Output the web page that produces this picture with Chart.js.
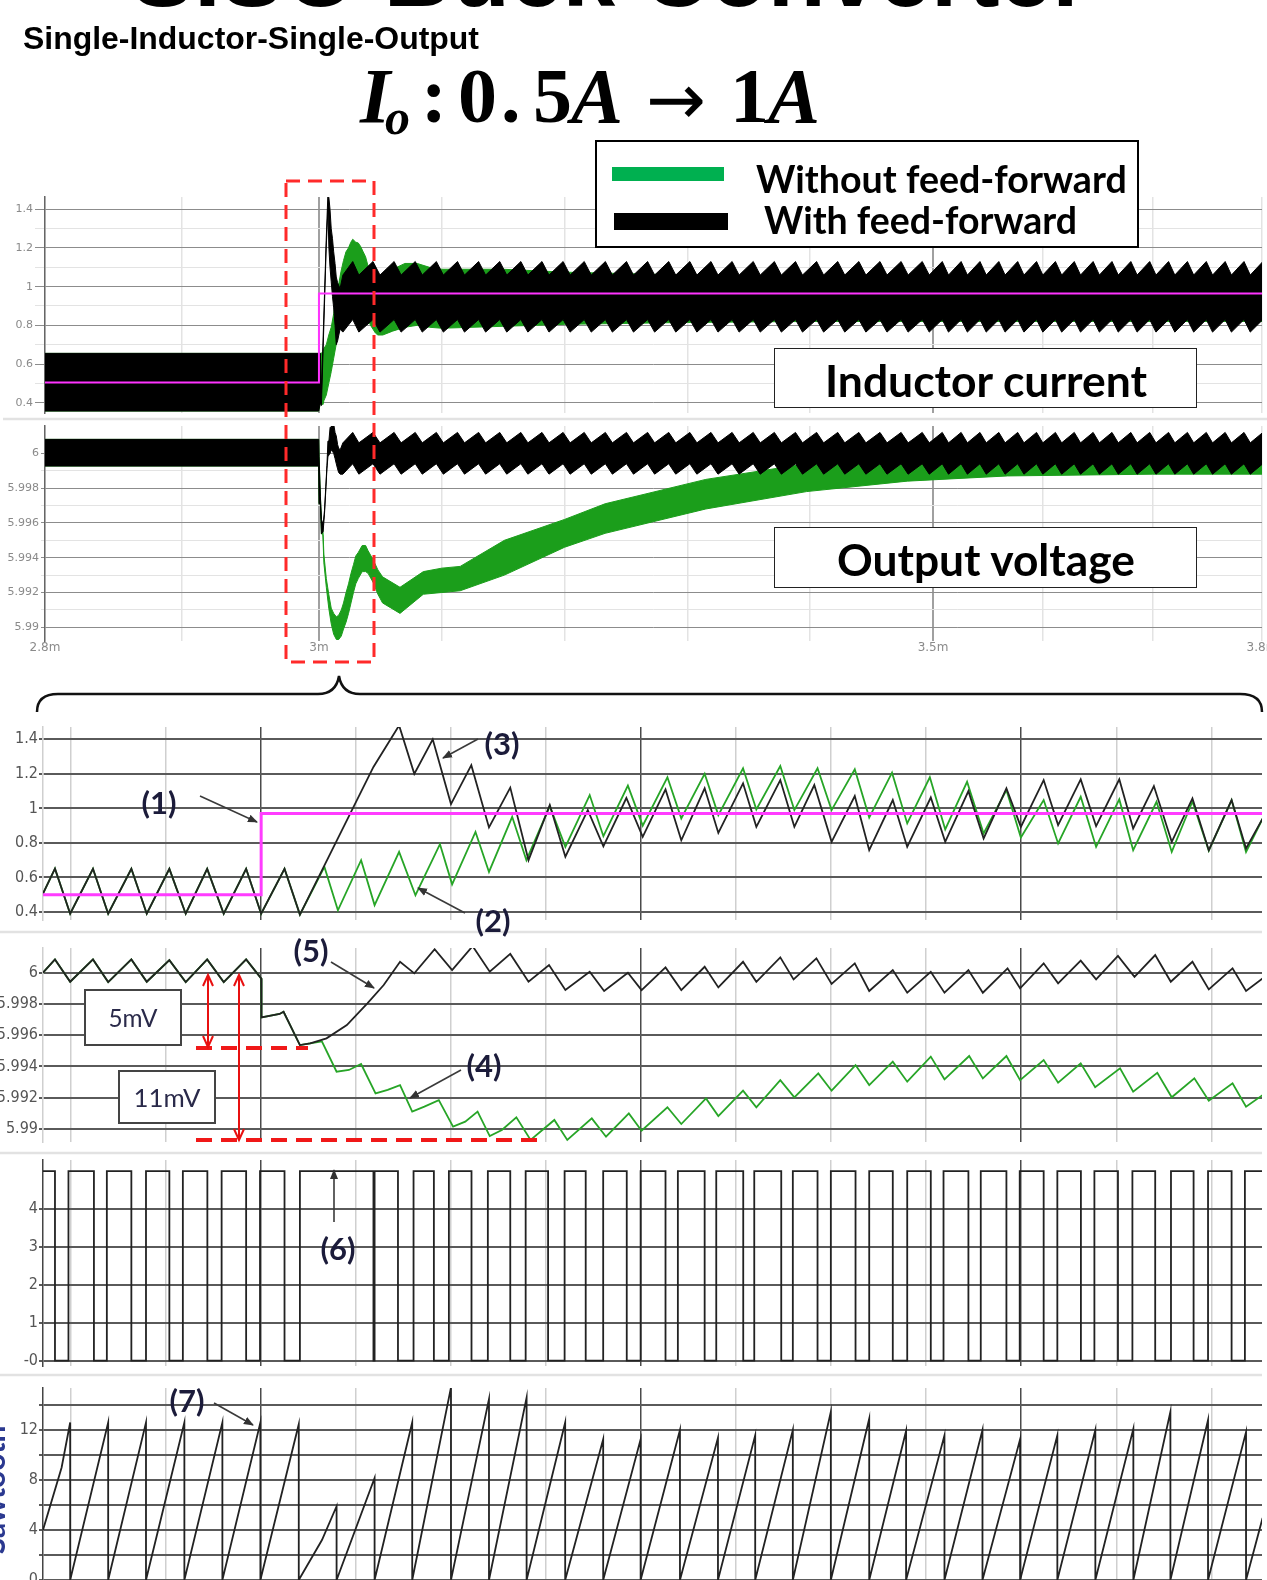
<!DOCTYPE html>
<html>
<head>
<meta charset="utf-8">
<title>SISO Buck Converter</title>
<script src="https://cdn.jsdelivr.net/npm/chart.js@4.4.1/dist/chart.umd.min.js"></script>
<style>
html, body { margin: 0; padding: 0; background: #fff; overflow: hidden; }
#page { position: relative; width: 1267px; height: 1580px; overflow: hidden; background: #fff; }
canvas { position: absolute; left: 0; }
.t { position: absolute; white-space: nowrap; line-height: 1; }
.box { position: absolute; box-sizing: border-box; background: #fff; }
.num { position: absolute; white-space: nowrap; line-height: 1; font: 700 31px Lato, 'Open Sans', sans-serif; color: #1b1b3a; transform: translate(-50%, -50%); }
.fx { position: absolute; white-space: nowrap; line-height: 1; font-family: 'Liberation Serif', 'Times New Roman', serif; font-weight: 700; transform: translateY(-83.75%); }
</style>
</head>
<body>
<div id="page">
  <canvas id="topI" width="1300" height="240" style="top:185px"></canvas>
  <canvas id="topV" width="1300" height="245" style="top:414px"></canvas>
  <canvas id="zI" width="1300" height="217" style="top:715px"></canvas>
  <canvas id="zV" width="1300" height="218" style="top:936px"></canvas>
  <canvas id="zP" width="1300" height="230" style="top:1148px"></canvas>
  <canvas id="zS" width="1300" height="219" style="top:1376px"></canvas>

  <svg width="1267" height="1580" style="position:absolute;left:0;top:0">
    <defs>
      <marker id="ah" viewBox="0 0 10 10" refX="9" refY="5" markerWidth="10" markerHeight="10" orient="auto" markerUnits="userSpaceOnUse">
        <path d="M0,1 L10,5 L0,9 z" fill="#333"/>
      </marker>
    </defs>
    <g stroke="#e2e2e2" stroke-width="2.5">
      <line x1="3" y1="419" x2="1267" y2="419"/>
      <line x1="0" y1="932" x2="1262" y2="932"/>
      <line x1="0" y1="1153" x2="1262" y2="1153"/>
      <line x1="0" y1="1375" x2="1262" y2="1375"/>
    </g>
    <rect x="286" y="181" width="88" height="481" fill="none" stroke="#ff2a2a" stroke-width="3" stroke-dasharray="14 8"/>
    <path d="M37 712 Q37 694 58 694 L318 694 Q336 694 339 676 Q342 694 360 694 L1240 694 Q1262 694 1262 712" fill="none" stroke="#111" stroke-width="2.5"/>
    <g stroke="#3a3a3a" stroke-width="1.6" marker-end="url(#ah)">
      <line x1="200" y1="796" x2="257" y2="822"/>
      <line x1="465" y1="913" x2="418" y2="888"/>
      <line x1="478" y1="739" x2="443" y2="758"/>
      <line x1="461" y1="1070" x2="410" y2="1098"/>
      <line x1="331" y1="962" x2="374" y2="988"/>
      <line x1="334" y1="1222" x2="334" y2="1170"/>
      <line x1="214" y1="1403" x2="253" y2="1425"/>
    </g>
    <g stroke="#f01818" stroke-width="4" stroke-dasharray="16 9">
      <line x1="196" y1="1048" x2="308" y2="1048"/>
      <line x1="196" y1="1140" x2="545" y2="1140"/>
    </g>
    <g stroke="#e81010" stroke-width="2" fill="none">
      <line x1="208" y1="975" x2="208" y2="1047"/>
      <polyline points="203,986 208,975 213,986"/>
      <polyline points="203,1036 208,1047 213,1036"/>
      <line x1="239" y1="975" x2="239" y2="1140"/>
      <polyline points="234,986 239,975 244,986"/>
      <polyline points="234,1129 239,1140 244,1129"/>
    </g>
  </svg>

  <div class="t" data-fw="958" style="left:610px;top:11px;font:700 94px 'Liberation Sans',Arial,sans-serif;color:#000;transform:translate(-50%,-84.65%)">SISO Buck Converter</div>
  <div class="t" data-fw="456" style="left:23px;top:38px;font:700 26px 'Liberation Sans',Arial,sans-serif;color:#000;transform:translateY(-50%)">Single-Inductor-Single-Output</div>

  <div id="formula">
    <span class="fx" style="left:360px;top:122px;font-size:78px;font-style:italic">I</span><span class="fx" style="left:385px;top:134px;font-size:50px;font-style:italic">o</span><span class="fx" style="left:421px;top:122px;font-size:78px">:</span><span class="fx" style="left:458px;top:122px;font-size:78px">0</span><span class="fx" style="left:501px;top:122px;font-size:78px">.</span><span class="fx" style="left:533px;top:122px;font-size:78px">5</span><span class="fx" style="left:571px;top:122px;font-size:78px;font-style:italic">A</span><span class="fx" data-fw="60" style="left:646px;top:124px;font-size:70px;font-weight:400;font-family:'DejaVu Sans',sans-serif">→</span><span class="fx" style="left:730px;top:122px;font-size:78px">1</span><span class="fx" style="left:768px;top:122px;font-size:78px;font-style:italic">A</span>
  </div>

  <div class="box" style="left:595px;top:140px;width:544px;height:108px;border:2px solid #000"></div>
  <div class="box" style="left:612px;top:167px;width:112px;height:14px;background:#00b050"></div>
  <div class="box" style="left:614px;top:213px;width:114px;height:17px;background:#000"></div>
  <div class="t" data-fw="371" style="left:756px;top:178px;font:700 35px Lato,sans-serif;color:#000;transform:translateY(-50%)">Without feed-forward</div>
  <div class="t" data-fw="313" style="left:764px;top:219px;font:700 35px Lato,sans-serif;color:#000;transform:translateY(-50%)">With feed-forward</div>

  <div class="box" style="left:774px;top:348px;width:423px;height:60px;border:1.5px solid #222"></div>
  <div class="t" data-fw="322" style="left:825px;top:379px;font:700 37px Lato,sans-serif;color:#000;transform:translateY(-50%)">Inductor current</div>
  <div class="box" style="left:774px;top:527px;width:423px;height:61px;border:1.5px solid #222"></div>
  <div class="t" data-fw="298" style="left:837px;top:558px;font:700 37px Lato,sans-serif;color:#000;transform:translateY(-50%)">Output voltage</div>

  <div class="box" style="left:84px;top:989px;width:98px;height:57px;border:2px solid #444"></div>
  <div class="t" data-fw="49" style="left:133px;top:1017px;font:400 26px Lato,sans-serif;color:#2a2a4a;transform:translate(-50%,-50%)">5mV</div>
  <div class="box" style="left:118px;top:1070px;width:98px;height:54px;border:2px solid #444"></div>
  <div class="t" data-fw="67" style="left:167px;top:1097px;font:400 26px Lato,sans-serif;color:#2a2a4a;transform:translate(-50%,-50%)">11mV</div>

  <div class="num" style="left:159px;top:802px">(1)</div>
  <div class="num" style="left:493px;top:920px">(2)</div>
  <div class="num" style="left:502px;top:743px">(3)</div>
  <div class="num" style="left:484px;top:1065px">(4)</div>
  <div class="num" style="left:311px;top:950px">(5)</div>
  <div class="num" style="left:338px;top:1248px">(6)</div>
  <div class="num" style="left:187px;top:1400px">(7)</div>

  <div class="t" style="left:-7px;top:1490px;font:700 30px Lato,sans-serif;color:#2b3990;transform:translate(-50%,-50%) rotate(-90deg)">Sawtooth</div>
</div>

<script>
// ---------- top panels (time in ms) ----------
const topGridX = [2.8, 2.9, 3.0, 3.1, 3.2, 3.3, 3.4, 3.5, 3.6, 3.7, 3.8];
const topMajorX = [3.0, 3.5];
const topXLabelAt = [2.8, 3.0, 3.5, 3.8];
const topXLabels = ['2.8m', '3m', '3.5m', '3.8m'];
// the source plot's time axis is not evenly spaced: where each labelled time sits along it (0..1)
const timeAxisAt = [2.8, 3.0, 3.5, 3.8];
const timeAxisFrac = [0, 0.2251, 0.7297, 1];

const topIGrid = [0.4, 0.5, 0.6, 0.7, 0.8, 0.9, 1.0, 1.1, 1.2, 1.3, 1.4];
const topILabelAt = [0.4, 0.6, 0.8, 1.0, 1.2, 1.4];
const topILabels = ['0.4', '0.6', '0.8', '1', '1.2', '1.4'];
const topVGrid = [5.99, 5.991, 5.992, 5.993, 5.994, 5.995, 5.996, 5.997, 5.998, 5.999, 6.0];
const topVLabelAt = [5.99, 5.992, 5.994, 5.996, 5.998, 6.0];
const topVLabels = ['5.99', '5.992', '5.994', '5.996', '5.998', '6'];

// reference current [t, A]
const topRef = [[2.8, 0.505], [3.0, 0.505], [3.0, 0.965], [3.8, 0.965]];
// ripple bands: [t, upper edge, lower edge]
const tiBlack = [[2.8, 0.655, 0.357], [2.9998, 0.655, 0.357], [3.0012, 0.655, 0.40], [3.0020, 0.45, 0.385],
  [3.0059, 1.24, 1.20], [3.0073, 1.48, 1.40], [3.0081, 1.46, 1.20], [3.0090, 1.40, 1.10], [3.0100, 1.30, 1.025],
  [3.0110, 1.25, 0.95], [3.0120, 1.18, 0.89], [3.0131, 1.12, 0.80], [3.0141, 1.05, 0.70], [3.0152, 1.02, 0.72],
  [3.0172, 0.99, 0.78]];
const tiGreen = [[2.8, 0.655, 0.357], [2.9998, 0.655, 0.357], [3.0012, 0.655, 0.40], [3.0033, 0.66, 0.39],
  [3.0040, 0.68, 0.41], [3.0060, 0.70, 0.44], [3.0080, 0.75, 0.50], [3.0100, 0.79, 0.56], [3.0120, 0.86, 0.63],
  [3.0140, 0.95, 0.70], [3.0160, 1.01, 0.78], [3.0180, 1.08, 0.84], [3.0200, 1.135, 0.90], [3.0220, 1.18, 0.94],
  [3.0240, 1.20, 0.96], [3.0260, 1.23, 0.99], [3.0275, 1.245, 0.99], [3.0300, 1.23, 0.99], [3.0320, 1.226, 0.95],
  [3.0340, 1.207, 0.91], [3.0360, 1.18, 0.88], [3.0380, 1.154, 0.855], [3.0400, 1.106, 0.83], [3.0420, 1.07, 0.80],
  [3.0440, 1.067, 0.78], [3.0460, 1.052, 0.76], [3.0480, 1.04, 0.75], [3.0520, 1.05, 0.75], [3.0600, 1.09, 0.77],
  [3.0700, 1.12, 0.79], [3.0800, 1.12, 0.80], [3.0900, 1.10, 0.79], [3.1000, 1.09, 0.785], [3.1500, 1.09, 0.795],
  [3.2000, 1.075, 0.805], [3.3000, 1.06, 0.815], [3.4000, 1.055, 0.82], [3.8000, 1.055, 0.82]];
const tvBlack = [[2.8, 6.0008, 5.99927], [2.9998, 6.0008, 5.99927], [3.0001, 5.9998, 5.9971], [3.0012, 5.9975, 5.9971],
  [3.0020, 5.9962, 5.99537], [3.0034, 5.9959, 5.9955], [3.0045, 5.9967, 5.9965], [3.0056, 5.9981, 5.9979],
  [3.0065, 5.9993, 5.9991], [3.0073, 6.0007, 5.9998], [3.0081, 6.0007, 5.9999], [3.0091, 6.0015, 6.0000],
  [3.0100, 6.0015, 6.0002], [3.0111, 6.0017, 6.0001], [3.0120, 6.0017, 6.0000], [3.0131, 6.0012, 5.9997],
  [3.0141, 6.0010, 5.9994], [3.0152, 6.0005, 5.9991], [3.0160, 6.0003, 5.9989], [3.0173, 6.0002, 5.9988]];
const tvGreen = [[2.8, 6.0008, 5.99927], [2.9998, 6.0008, 5.99927], [3.0001, 5.9998, 5.9971], [3.0012, 5.9975, 5.9971],
  [3.0020, 5.9962, 5.99537], [3.0032, 5.9957, 5.9953], [3.0040, 5.9942, 5.9937], [3.0060, 5.9928, 5.9923],
  [3.0080, 5.9919, 5.9911], [3.0100, 5.9911, 5.9902], [3.0120, 5.9908, 5.9896], [3.0142, 5.9906, 5.9893],
  [3.0161, 5.9907, 5.9893], [3.0182, 5.9910, 5.9895], [3.0200, 5.9914, 5.9899], [3.0221, 5.9920, 5.9903],
  [3.0241, 5.9925, 5.9908], [3.0261, 5.9931, 5.9914], [3.0281, 5.9936, 5.9920], [3.0300, 5.9941, 5.9925],
  [3.0320, 5.9943, 5.9928], [3.0352, 5.9947, 5.9932], [3.0380, 5.9947, 5.9932], [3.0400, 5.9944, 5.9931],
  [3.0440, 5.9939, 5.9926], [3.0480, 5.9933, 5.9919], [3.0518, 5.9929, 5.9914], [3.0660, 5.9923, 5.9908],
  [3.0850, 5.9932, 5.9919], [3.1000, 5.9934, 5.9920], [3.1150, 5.9935, 5.9921], [3.1510, 5.9950, 5.9930],
  [3.2000, 5.9962, 5.9946], [3.2330, 5.9971, 5.9954], [3.3150, 5.9985, 5.9968], [3.3970, 5.9994, 5.9978],
  [3.4790, 5.9998, 5.9984], [3.5680, 6.0001, 5.9987], [3.7000, 6.0002, 5.9988], [3.8000, 6.0002, 5.9988]];
// steady state beat of the feed-forward trace: [low time, high time] for each tooth
const beatT = [[3.0195, 3.0275], [3.0325, 3.0440], [3.0497, 3.0612], [3.0669, 3.0784], [3.0841, 3.0956],
  [3.1013, 3.1128], [3.1185, 3.1300], [3.1357, 3.1472], [3.1529, 3.1644], [3.1701, 3.1816], [3.1873, 3.1988],
  [3.2045, 3.2160], [3.2217, 3.2332], [3.2389, 3.2504], [3.2561, 3.2676], [3.2733, 3.2848], [3.2905, 3.3020],
  [3.3077, 3.3192], [3.3249, 3.3364], [3.3421, 3.3536], [3.3593, 3.3708], [3.3765, 3.3880], [3.3937, 3.4052],
  [3.4109, 3.4224], [3.4281, 3.4396], [3.4453, 3.4568], [3.4625, 3.4740], [3.4797, 3.4912], [3.4969, 3.5084],
  [3.5141, 3.5256], [3.5313, 3.5428], [3.5485, 3.5600], [3.5657, 3.5772], [3.5829, 3.5944], [3.6001, 3.6116],
  [3.6173, 3.6288], [3.6345, 3.6460], [3.6517, 3.6632], [3.6689, 3.6804], [3.6861, 3.6976], [3.7033, 3.7148],
  [3.7205, 3.7320], [3.7377, 3.7492], [3.7549, 3.7664], [3.7721, 3.7836], [3.7893, 3.8008]];
const blkIUpper = [1.06, 1.13];
const blkILower = [0.765, 0.83];
const blkVUpper = [6.0006, 6.0012];
const blkVLower = [5.9988, 5.9994];

// ---------- zoomed panels (time in us, 0 = load step) ----------
const zGridX = [-10, -5, 0, 5, 10, 15, 20, 25, 30, 35, 40, 45, 50];
const zMajorX = [0, 20, 40];
const zILabels = ['0.4', '0.6', '0.8', '1', '1.2', '1.4'];
const zIAt = [0.4, 0.6, 0.8, 1.0, 1.2, 1.4];
const zVLabels = ['5.99', '5.992', '5.994', '5.996', '5.998', '6'];
const zVAt = [5.99, 5.992, 5.994, 5.996, 5.998, 6.0];
const zPLabels = ['-0', '1', '2', '3', '4'];
const zPAt = [0, 1, 2, 3, 4];
const zSGrid = [0, 2, 4, 6, 8, 10, 12, 14];
const zSLabels = ['0', '4', '8', '12'];
const zSAt = [0, 4, 8, 12];

const ilRef = [[-11.48, 0.5], [0, 0.5], [0, 0.97], [52.7, 0.97]];
const ilBlack = [[-11.48, 0.506], [-10.85, 0.651], [-10.05, 0.39], [-8.85, 0.65], [-8.05, 0.39], [-6.83, 0.65],
  [-6.02, 0.39], [-4.83, 0.65], [-3.97, 0.39], [-2.84, 0.65], [-1.97, 0.39], [-0.79, 0.65], [0.0, 0.39], [1.23, 0.65],
  [2.04, 0.385], [5.91, 1.24], [7.26, 1.48], [8.06, 1.20], [9.03, 1.40], [9.99, 1.025], [11.06, 1.25], [11.99, 0.89],
  [13.11, 1.12], [14.07, 0.70], [15.19, 1.02], [16.01, 0.72], [17.19, 0.99], [18.01, 0.78], [19.22, 1.06],
  [20.08, 0.835], [21.28, 1.11], [22.11, 0.815], [23.34, 1.116], [24.06, 0.858], [25.36, 1.145], [26.06, 0.893],
  [27.32, 1.164], [28.06, 0.893], [29.11, 1.135], [30.02, 0.806], [31.24, 1.071], [32.0, 0.758], [33.24, 1.048],
  [34.0, 0.777], [35.24, 1.063], [36.0, 0.806], [37.22, 1.10], [38.02, 0.826], [39.22, 1.116], [39.98, 0.893],
  [41.18, 1.164], [41.94, 0.903], [43.13, 1.168], [43.94, 0.897], [45.16, 1.168], [45.89, 0.884], [46.98, 1.129],
  [47.92, 0.806], [49.01, 1.058], [49.87, 0.758], [51.07, 1.048], [51.83, 0.768], [52.7, 0.94]];
const ilGreen = [[3.33, 0.661], [4.04, 0.41], [5.26, 0.70], [5.97, 0.44], [7.26, 0.748], [8.12, 0.497], [9.41, 0.793],
  [10.05, 0.56], [11.28, 0.864], [11.99, 0.632], [13.21, 0.951], [13.96, 0.70], [15.19, 1.013], [16.01, 0.777],
  [17.29, 1.077], [18.01, 0.839], [19.3, 1.132], [20.08, 0.90], [21.38, 1.18], [22.11, 0.942], [23.34, 1.20],
  [24.06, 0.961], [25.36, 1.232], [26.06, 0.994], [27.32, 1.245], [28.06, 0.99], [29.28, 1.232], [30.02, 0.99],
  [31.24, 1.226], [32.0, 0.947], [33.2, 1.207], [34.0, 0.913], [35.19, 1.18], [36.0, 0.878], [37.15, 1.154],
  [38.02, 0.855], [39.22, 1.106], [39.98, 0.831], [41.18, 1.048], [41.94, 0.797], [43.13, 1.067], [43.94, 0.777],
  [45.16, 1.052], [45.89, 0.758], [47.12, 1.038], [47.92, 0.748], [49.01, 1.04], [49.87, 0.755], [51.07, 1.048],
  [51.83, 0.748], [52.7, 0.94]];
const voBlack = [[-11.48, 6.0], [-10.85, 6.00085], [-10.05, 5.99942], [-8.85, 6.00085], [-8.05, 5.9994],
  [-6.83, 6.00085], [-6.02, 5.99942], [-4.83, 6.0008], [-3.97, 5.9994], [-2.84, 6.00085], [-1.97, 5.9994],
  [-0.79, 6.00085], [0.0, 5.99964], [0.02, 5.99714], [0.97, 5.99736], [1.18, 5.9975], [2.04, 5.99537],
  [2.58, 5.99548], [3.44, 5.9958], [4.51, 5.99665], [5.59, 5.99804], [6.45, 5.99921], [7.31, 6.0007],
  [8.06, 5.99996], [9.13, 6.0015], [10.05, 6.00017], [11.13, 6.0017], [12.03, 6.00006], [13.11, 6.0012],
  [14.07, 5.99942], [15.15, 6.00049], [16.01, 5.99889], [17.29, 6.00006], [18.05, 5.99883], [19.3, 6.0],
  [20.02, 5.99889], [21.28, 6.00034], [22.11, 5.99889], [23.34, 6.00038], [24.06, 5.99906], [25.36, 6.0007],
  [26.06, 5.99942], [27.32, 6.00098], [28.02, 5.99957], [29.22, 6.00092], [30.02, 5.99928], [31.24, 6.0006],
  [32.0, 5.99883], [33.24, 6.00017], [34.0, 5.99872], [35.24, 6.00006], [35.96, 5.99872], [37.22, 6.00017],
  [37.98, 5.99872], [39.28, 6.00028], [39.94, 5.999], [41.18, 6.0006], [41.94, 5.99932], [43.13, 6.00077],
  [43.94, 5.99957], [45.09, 6.00107], [45.96, 5.99974], [47.05, 6.00113], [47.87, 5.99942], [49.01, 6.0007],
  [49.87, 5.99893], [51.12, 6.00028], [51.83, 5.99883], [52.7, 5.99964]];
const voGreen = [[3.2, 5.9956], [3.97, 5.99367], [4.62, 5.99378], [5.26, 5.99416], [6.02, 5.99228], [6.66, 5.9925],
  [7.31, 5.99281], [7.95, 5.99111], [8.59, 5.99143], [9.35, 5.99185], [10.1, 5.99015], [10.74, 5.99047],
  [11.39, 5.99111], [12.03, 5.98955], [12.67, 5.98994], [13.43, 5.99075], [14.18, 5.9893], [15.43, 5.99058],
  [16.11, 5.9893], [17.4, 5.99068], [18.15, 5.98951], [19.35, 5.991], [20.02, 5.98989], [21.38, 5.99139],
  [22.11, 5.99032], [23.41, 5.99196], [24.06, 5.99083], [25.36, 5.99245], [26.06, 5.99139], [27.32, 5.99313],
  [28.06, 5.99203], [29.32, 5.99356], [30.02, 5.99245], [31.28, 5.99409], [32.0, 5.99281], [33.24, 5.99431],
  [34.0, 5.99303], [35.24, 5.99463], [35.96, 5.99318], [37.26, 5.99467], [37.98, 5.99324], [39.22, 5.99467],
  [39.94, 5.99313], [41.18, 5.99441], [41.94, 5.99296], [43.13, 5.9942], [43.89, 5.99267], [45.2, 5.99388],
  [45.89, 5.99239], [47.16, 5.9936], [47.92, 5.99203], [49.11, 5.99324], [49.87, 5.99181], [51.12, 5.99292],
  [51.83, 5.99143], [52.7, 5.99217]];
// gate signal: starts high, toggles at each edge (fall, rise, fall, ...)
const pwmLevels = [0, 5];
const pwmEdges = [-10.85, -10.14, -8.8, -8.12, -6.83, -6.06, -4.83, -4.12, -2.83, -2.08, -0.79, -0.06, 1.23, 2.04,
  5.91, 5.97, 7.2, 8.02, 9.09, 9.88, 11.07, 11.93, 13.11, 13.92, 15.1, 15.97, 17.08, 18.0, 19.24, 19.97, 21.28, 21.93,
  23.34, 23.95, 25.37, 25.95, 27.37, 27.98, 29.28, 29.98, 31.28, 32.0, 33.24, 34.0, 35.24, 35.91, 37.22, 37.87,
  39.22, 39.92, 41.18, 41.9, 43.14, 43.85, 45.09, 45.85, 47.05, 47.88, 49.07, 49.83, 51.07, 51.77];
// sawtooth: ramps up to each peak then resets to 0 at the same instant
const sawHead = [[-11.48, 4.0], [-10.5, 9.0]];
const sawPeakT = [-10.05, -8.05, -6.06, -4.04, -2.04, -0.04, 1.98, 3.97, 5.97, 7.95, 9.99, 11.99, 13.97, 16.0, 18.0,
  19.97, 22.04, 24.04, 26.0, 27.98, 29.98, 32.0, 33.94, 35.96, 37.96, 39.94, 41.9, 43.9, 45.9, 47.85, 49.83, 51.83];
const sawPeakV = [12.6, 12.6, 12.6, 12.6, 12.6, 12.6, 12.46, 5.9, 8.17, 12.6, 15.4, 14.47, 14.6, 12.6, 11.25, 11.25,
  12.0, 11.38, 11.57, 12.0, 13.45, 12.9, 11.92, 11.57, 12.0, 11.25, 11.57, 12.0, 12.1, 13.45, 12.8, 11.84];
const sawKinks = [[3.2, 3.2]];
const sawTail = [[52.7, 4.96]];

// ---------- helpers ----------
const GREEN_BAND = '#1b9e1b';
const GREEN_LINE = '#27a527';
const near = (a, b) => Math.abs(a - b) < 1e-7;
const pts = arr => arr.map(p => ({ x: p[0], y: p[1] }));

function mapTime(v) {
  const a = timeAxisAt, f = timeAxisFrac;
  let i = 0;
  while (i < a.length - 2 && v > a[i + 1]) i++;
  return f[i] + (v - a[i]) / (a[i + 1] - a[i]) * (f[i + 1] - f[i]);
}
function unmapTime(d) {
  const a = timeAxisAt, f = timeAxisFrac;
  let i = 0;
  while (i < f.length - 2 && d > f[i + 1]) i++;
  return a[i] + (d - f[i]) / (f[i + 1] - f[i]) * (a[i + 1] - a[i]);
}
class WarpScale extends Chart.LinearScale {
  getPixelForValue(value) { return this.getPixelForDecimal(mapTime(value)); }
  getValueForPixel(pixel) { return unmapTime(this.getDecimalForPixel(pixel)); }
}
WarpScale.id = 'warp';
WarpScale.defaults = Chart.LinearScale.defaults;
Chart.register(WarpScale);

function band(head, pairs, upper, lower) {
  const hi = head.map(r => ({ x: r[0], y: r[1] }));
  const lo = head.map(r => ({ x: r[0], y: r[2] }));
  pairs.forEach(p => {
    hi.push({ x: p[0], y: upper[0] }, { x: p[1], y: upper[1] });
    lo.push({ x: p[0], y: lower[0] }, { x: p[1], y: lower[1] });
  });
  return [hi, lo];
}
function withLead(lead, cut, rest) {
  return pts(lead.filter(p => p[0] < cut)).concat(pts(rest));
}
function pwmPoints() {
  const [lo, hi] = pwmLevels;
  let level = hi;
  const out = [{ x: -11.48, y: level }];
  pwmEdges.forEach(t => {
    out.push({ x: t, y: level });
    level = level === hi ? lo : hi;
    out.push({ x: t, y: level });
  });
  out.push({ x: 52.7, y: level });
  return out;
}
function sawPoints() {
  let out = pts(sawHead);
  sawPeakT.forEach((t, i) => { out.push({ x: t, y: sawPeakV[i] }, { x: t, y: 0 }); });
  out = out.concat(pts(sawKinks), pts(sawTail));
  return out.sort((a, b) => a.x - b.x);
}
function labelFor(at, labels) {
  return v => { const i = at.findIndex(a => near(a, v)); return i < 0 ? '' : labels[i]; };
}

function topXScale(showLabels) {
  return {
    type: 'warp', min: 2.8, max: 3.8,
    afterBuildTicks: s => { s.ticks = topGridX.map(v => ({ value: v })); },
    afterFit: s => { s.height = showLabels ? 15 : 0; },
    ticks: { display: showLabels, autoSkip: false, maxRotation: 0, padding: 0, color: '#8a8a8a',
      font: { family: 'DejaVu Sans', size: 12 }, callback: labelFor(topXLabelAt, topXLabels) },
    grid: { drawTicks: false,
      color: c => (c.tick && topMajorX.some(m => near(m, c.tick.value))) ? '#a0a0a0' : '#e3e3e3',
      lineWidth: c => (c.tick && topMajorX.some(m => near(m, c.tick.value))) ? 2 : 1.5 },
    border: { display: false }
  };
}
function zXScale() {
  return {
    type: 'linear', min: -11.48, max: 52.67,
    afterBuildTicks: s => { s.ticks = zGridX.map(v => ({ value: v })); },
    afterFit: s => { s.height = 0; },
    ticks: { display: false },
    grid: { drawTicks: false,
      color: c => (c.tick && zMajorX.includes(c.tick.value)) ? '#4a4a4a' : '#cfcfcf',
      lineWidth: 1.5 },
    border: { display: false }
  };
}
function yScale(o) {
  return {
    min: o.min, max: o.max,
    afterBuildTicks: s => { s.ticks = o.grid.map(v => ({ value: v })); },
    afterFit: s => { s.width = o.w; },
    ticks: { autoSkip: false, padding: o.pad, color: o.fc, font: o.font, callback: labelFor(o.at, o.labels) },
    grid: { tickLength: o.tl,
      color: c => (c.tick && o.at.some(a => near(a, c.tick.value))) ? o.major : o.minor,
      lineWidth: o.lw },
    border: { display: true, color: o.border, width: 1.5 }
  };
}
function makeChart(id, x, y, datasets, padBottom) {
  return new Chart(document.getElementById(id), {
    type: 'line',
    data: { datasets },
    options: {
      responsive: false, animation: false, devicePixelRatio: 1, events: [],
      layout: { padding: { left: 0, right: 38, top: 12, bottom: padBottom } },
      plugins: { legend: { display: false }, tooltip: { enabled: false } },
      elements: { point: { radius: 0 }, line: { tension: 0 } },
      scales: { x, y }
    }
  });
}

const topFont = { family: 'DejaVu Sans', size: 11 };
const zFont = { family: "'Liberation Sans Narrow', 'DejaVu Sans Condensed', sans-serif", size: 16 };

// ---------- top: inductor current ----------
const [biHi, biLo] = band(tiBlack, beatT, blkIUpper, blkILower);
const [giHi, giLo] = band(tiGreen, [], null, null);
makeChart('topI', topXScale(false),
  yScale({ min: 0.3467, max: 1.4636, grid: topIGrid, at: topILabelAt, labels: topILabels, w: 45, pad: 2, tl: 10,
    fc: '#8a8a8a', font: topFont, major: '#8c8c8c', minor: '#e3e3e3', lw: 1, border: '#666' }),
  [
    { data: pts(topRef), borderColor: '#ff33ff', borderWidth: 2 },
    { data: biHi, borderColor: '#000', backgroundColor: '#000', borderWidth: 1, fill: '+1' },
    { data: biLo, borderColor: '#000', borderWidth: 1, fill: false },
    { data: giHi, borderColor: GREEN_BAND, backgroundColor: GREEN_BAND, borderWidth: 1, fill: '+1' },
    { data: giLo, borderColor: GREEN_BAND, borderWidth: 1, fill: false }
  ], 12);

// ---------- top: output voltage ----------
const [bvHi, bvLo] = band(tvBlack, beatT, blkVUpper, blkVLower);
const [gvHi, gvLo] = band(tvGreen, [], null, null);
makeChart('topV', topXScale(true),
  yScale({ min: 5.989213, max: 6.001569, grid: topVGrid, at: topVLabelAt, labels: topVLabels, w: 45, pad: 2, tl: 4,
    fc: '#8a8a8a', font: topFont, major: '#8c8c8c', minor: '#e3e3e3', lw: 1, border: '#666' }),
  [
    { data: bvHi, borderColor: '#000', backgroundColor: '#000', borderWidth: 1, fill: '+1' },
    { data: bvLo, borderColor: '#000', borderWidth: 1, fill: false },
    { data: gvHi, borderColor: GREEN_BAND, backgroundColor: GREEN_BAND, borderWidth: 1, fill: '+1' },
    { data: gvLo, borderColor: GREEN_BAND, borderWidth: 1, fill: false }
  ], 3);

// ---------- zoom: inductor current ----------
makeChart('zI', zXScale(),
  yScale({ min: 0.3537, max: 1.4712, grid: zIAt, at: zIAt, labels: zILabels, w: 43, pad: 1, tl: 4,
    fc: '#555', font: zFont, major: '#5a5a5a', minor: '#5a5a5a', lw: 2, border: '#cfcfcf' }),
  [
    { data: pts(ilRef), borderColor: '#ff3cff', borderWidth: 3 },
    { data: pts(ilBlack), borderColor: '#222', borderWidth: 1.8 },
    { data: withLead(ilBlack, 3.3, ilGreen), borderColor: GREEN_LINE, borderWidth: 1.8 }
  ], 12);

// ---------- zoom: output voltage ----------
makeChart('zV', zXScale(),
  yScale({ min: 5.98917, max: 6.00158, grid: zVAt, at: zVAt, labels: zVLabels, w: 43, pad: 1, tl: 4,
    fc: '#555', font: zFont, major: '#5a5a5a', minor: '#5a5a5a', lw: 2, border: '#cfcfcf' }),
  [
    { data: pts(voBlack), borderColor: '#222', borderWidth: 1.8 },
    { data: withLead(voBlack, 3.2, voGreen), borderColor: GREEN_LINE, borderWidth: 1.8 }
  ], 12);

// ---------- zoom: gate signal ----------
makeChart('zP', zXScale(),
  yScale({ min: -0.14, max: 5.296, grid: zPAt, at: zPAt, labels: zPLabels, w: 43, pad: 1, tl: 4,
    fc: '#555', font: zFont, major: '#5a5a5a', minor: '#5a5a5a', lw: 2, border: '#444' }),
  [ { data: pwmPoints(), borderColor: '#222', borderWidth: 1.8 } ], 12);

// ---------- zoom: sawtooth ----------
makeChart('zS', zXScale(),
  yScale({ min: -0.24, max: 15.36, grid: zSGrid, at: zSGrid, labels: zSGrid.map(v => zSAt.includes(v) ? zSLabels[zSAt.indexOf(v)] : ''),
    w: 43, pad: 1, tl: 4, fc: '#555', font: zFont, major: '#5a5a5a', minor: '#5a5a5a', lw: 2, border: '#444' }),
  [ { data: sawPoints(), borderColor: '#222', borderWidth: 1.8 } ], 12);

// ---------- fit text widths to the reference ----------
document.querySelectorAll('[data-fw]').forEach(el => {
  const target = +el.dataset.fw;
  const fs = parseFloat(getComputedStyle(el).fontSize);
  const w = el.getBoundingClientRect().width;
  if (w > 0) el.style.fontSize = (fs * target / w).toFixed(2) + 'px';
});
</script>
</body>
</html>
